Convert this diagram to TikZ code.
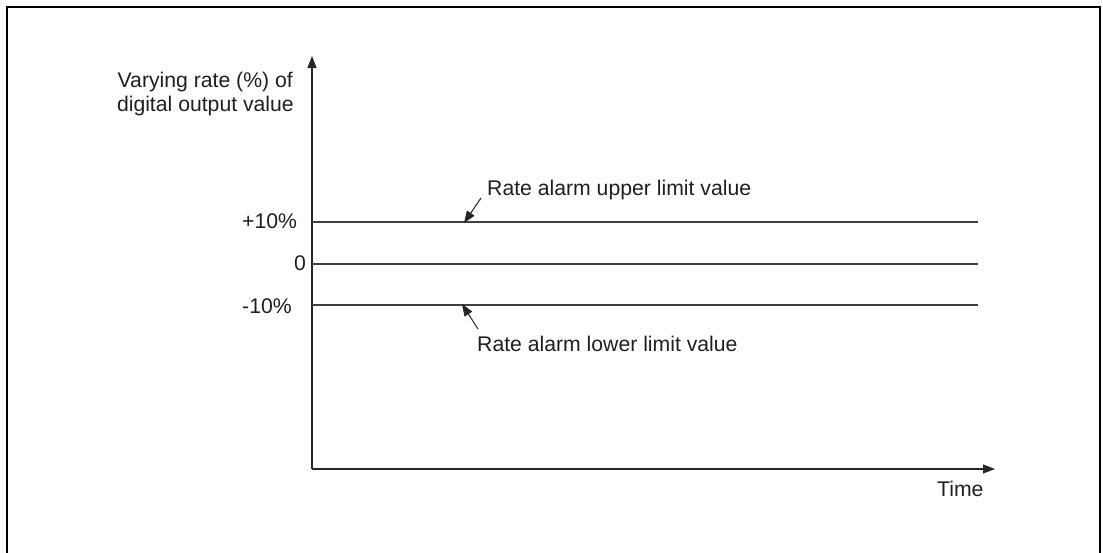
\documentclass[tikz,border=0pt]{standalone}
\usepackage{fontspec}
\setmainfont{Liberation Sans}
\usetikzlibrary{arrows.meta}
\begin{document}
\begin{tikzpicture}[x=1pt,y=-1pt,
  txt/.style={inner sep=0pt,font=\fontsize{21.2}{24.5}\selectfont,text=black!88},
  axis/.style={line width=1.1pt,draw=black!85,-{Triangle[length=12pt,width=9pt]}},
  level/.style={line width=1.1pt,draw=black!75},
  pointer/.style={line width=1pt,draw=black!85,-{Triangle[length=12pt,width=9pt]}},
  frame/.style={line width=2.2pt,draw=black}]
\useasboundingbox (0,0) rectangle (1103,552);
% frame (bottom edge outside picture)
\draw[frame] (7,560) -- (7,7) -- (1100,7) -- (1100,560);
% axes
\coordinate (O) at (312,469);
\coordinate (Ytop) at (312,56);
\coordinate (Xend) at (995,469);
\draw[axis] (O) -- (Ytop);
\draw[axis] (O) -- (Xend);
% levels
\coordinate (p10a) at (312,222);
\coordinate (p10b) at (978,222);
\coordinate (z0a) at (312,264);
\coordinate (z0b) at (978,264);
\coordinate (m10a) at (312,305);
\coordinate (m10b) at (978,305);
\draw[level] (p10a) -- (p10b);
\draw[level] (z0a) -- (z0b);
\draw[level] (m10a) -- (m10b);
% tick labels
\node[txt,anchor=base west] (lp10) at (242,228.5) {+10\%};
\node[txt,anchor=base east] (l0) at (306,270.5) {0};
\node[txt,anchor=base west] (lm10) at (242,313) {-10\%};
% axis labels
\node[txt,anchor=base east,align=right] (ylab1) at (293,87.3) {Varying rate (\%) of};
\node[txt,anchor=base east,align=right] (ylab2) at (294,111.7) {digital output value};
\node[txt,anchor=base west] (tlab) at (937,496) {Time};
% alarm labels
\node[txt,anchor=base west] (up) at (487,195.7) {Rate alarm upper limit value};
\node[txt,anchor=base west] (lo) at (477,351.7) {Rate alarm lower limit value};
\coordinate (upS) at (481,198);
\coordinate (upT) at (464,223);
\coordinate (loS) at (478,329);
\coordinate (loT) at (462,304);
\draw[pointer] (upS) -- (upT);
\draw[pointer] (loS) -- (loT);
\end{tikzpicture}
\end{document}
